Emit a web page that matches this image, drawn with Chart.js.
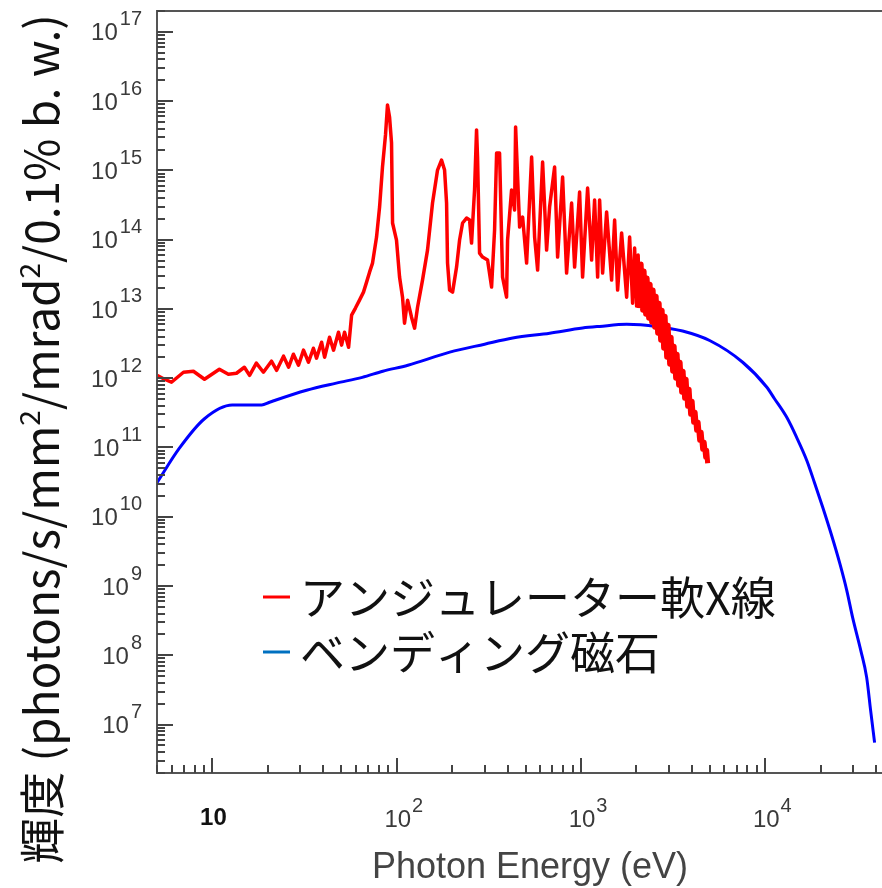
<!DOCTYPE html>
<html>
<head>
<meta charset="utf-8">
<script src="https://cdn.jsdelivr.net/npm/chart.js@4.4.1/dist/chart.umd.min.js"></script>
<style>
  html, body { margin: 0; padding: 0; background: #fff; }
  canvas { display: block; }
</style>
</head>
<body>
<canvas id="grafico" width="882" height="888"></canvas>
<script>
// series names (legend)
const seriesLabels = ['アンジュレーター軟X線', 'ベンディング磁石'];

// undulator (soft X-ray) - photon energy in eV
const undulatorEnergy = [5.0, 5.49, 5.99, 6.96, 7.88, 9.05, 10.9, 12.2, 13.5, 14.9,
  15.9, 17.3, 18.9, 20.9, 22.3, 24.3, 25.9, 27.5, 29.3, 31.2,
  33.2, 35.3, 36.7, 39.1, 40.6, 43.2, 45.4, 48.3, 50.2, 52.1,
  54.8, 56.9, 59.7, 62.8, 66.0, 68.6, 71.2, 73.9, 77.7, 80.7,
  83.7, 86.9, 89.1, 91.4, 93.7, 94.9, 99.7, 103.6, 107.5, 110.2,
  114.5, 120.3, 125, 129.7, 138, 146.9, 156.4, 166.5, 175, 181.8,
  186.4, 188.7, 193.6, 200.9, 211.2, 219.3, 227.7, 239.3, 248.5, 254.7,
  264.4, 271.1, 274.5, 281.5, 292.3, 311.1, 327.1, 339.6, 348.3, 361.4,
  375.2, 394.5, 399.5, 420, 436.1, 441.6, 464.4, 482.1, 506.8, 539.5,
  560.1, 581.5, 618.9, 650.6, 675.4, 719, 746.5, 794.6, 835.3, 889.2,
  923.2, 982.7, 1020, 1086, 1142, 1185, 1231, 1262, 1310, 1377,
  1466, 1522, 1580, 1661, 1769,
  1836, 1906, 1954, 2004, 2042, 2080, 2120, 2160, 2200, 2242,
  2284, 2328, 2372, 2417, 2463, 2509, 2557, 2605, 2655, 2705,
  2756, 2808, 2861, 2916, 2971, 3027, 3084, 3142, 3202, 3262,
  3324, 3386, 3451, 3516, 3582, 3650, 3719, 3789, 3861, 3934,
  4009, 4084, 4162, 4240, 4321, 4405, 4488, 4573, 4660, 4748,
  4808, 4868];
// brightness (photons/s/mm2/mrad2/0.1% b.w.)
const undulatorBright = [1.10e12, 9.67e11, 8.75e11, 1.22e12, 1.26e12, 9.67e11, 1.35e12, 1.14e12, 1.18e12, 1.44e12,
  1.10e12, 1.65e12, 1.22e12, 1.76e12, 1.30e12, 2.08e12, 1.44e12, 2.22e12, 1.54e12, 2.54e12,
  1.70e12, 2.71e12, 1.95e12, 3.31e12, 2.01e12, 3.91e12, 2.54e12, 4.62e12, 3.00e12, 4.62e12,
  2.80e12, 8.13e12, 1.03e13, 1.34e13, 1.75e13, 2.44e13, 3.40e13, 4.59e13, 1.09e14, 2.96e14,
  1.12e15, 3.25e15, 8.81e15, 5.91e15, 2.49e15, 1.74e14, 9.87e13, 2.88e13, 1.48e13, 6.23e12,
  1.34e13, 7.61e12, 5.28e12, 1.06e13, 2.61e13, 7.07e13, 3.38e14, 1.01e15, 1.41e15, 1.01e15,
  3.38e14, 4.59e13, 1.87e13, 1.75e13, 4.02e13, 9.87e13, 1.74e14, 2.05e14, 1.92e14, 8.93e13,
  5.21e14, 3.84e15, 1.56e15, 6.40e13, 5.60e13, 5.07e13, 2.07e13, 1.38e14, 1.78e15, 1.78e15,
  2.88e13, 1.48e13, 9.87e13, 5.21e14, 2.68e14, 4.24e15, 1.52e14, 2.12e14, 4.59e13, 1.56e15,
  1.09e14, 3.64e13, 1.32e15, 7.07e13, 2.96e14, 1.12e15, 5.60e13, 8.03e14, 3.29e13, 3.38e14,
  4.02e13, 4.87e14, 2.88e13, 5.57e14, 5.07e13, 3.73e14, 2.88e13, 3.73e14, 3.29e13, 2.51e14,
  2.61e13, 1.92e14, 1.87e13, 1.25e14, 1.48e13,
  1.09e14, 1.21e13, 7.56e13, 1.10e13, 5.99e13, 1.03e13, 4.44e13, 9.61e12, 3.52e13, 8.41e12,
  2.79e13, 7.36e12, 2.28e13, 6.45e12, 1.87e13, 5.46e12, 1.53e13, 4.47e12, 1.21e13, 3.54e12,
  9.61e12, 2.71e12, 7.87e12, 2.01e12, 5.83e12, 1.59e12, 3.91e12, 1.26e12, 2.90e12, 1.00e12,
  2.22e12, 7.92e11, 1.70e12, 6.28e11, 1.26e12, 5.14e11, 9.67e11, 3.94e11, 6.93e11, 3.02e11,
  4.65e11, 2.31e11, 3.23e11, 1.77e11, 2.31e11, 1.27e11, 1.66e11, 9.42e10, 1.19e11, 7.22e10,
  9.11e10, 5.91e10];

// bending magnet
const bendEnergy = [5.0, 6.6, 9.05, 12.8, 18.5, 20.4, 32.4, 47, 65, 84,
  115, 194, 300, 426, 676, 1020, 1262, 1770, 2570, 3560,
  4990, 7540, 10200, 11200, 13100, 14800, 16800, 18500, 20500, 22900,
  25400, 27700, 29800, 33000, 35500, 37300, 39200];
const bendBright = [3.1e10, 9.7e10, 2.6e11, 4.1e11, 4.1e11, 4.5e11, 6.7e11, 8.5e11, 1.03e12, 1.26e12,
  1.54e12, 2.38e12, 3.1e12, 3.8e12, 4.47e12, 5.3e12, 5.6e12, 6.0e12, 5.6e12, 4.8e12,
  3.5e12, 1.7e12, 7.4e11, 5.1e11, 2.7e11, 1.4e11, 6.5e10, 3.1e10, 1.37e10, 5.4e9,
  2.1e9, 8.6e8, 3.5e8, 1.17e8, 4.8e7, 1.6e7, 5.5e6];

// axis ranges and tick labels
const xRange = [5, 43000];
const yRange = [2e6, 2e17];
const xDecades = [1, 2, 3, 4];
const yDecades = [7, 8, 9, 10, 11, 12, 13, 14, 15, 16, 17];

const xTitle = 'Photon Energy (eV)';
// y title pieces: [text, superscript?]
const yTitleParts = [['輝度 (photons/s/mm', false], ['2', true], ['/mrad', false], ['2', true], ['/0.1% b. w.)', false]];

function toPoints(xs, ys) {
    return xs.map(function (x, i) { return { x: x, y: ys[i] }; });
}

// Dibuja marco, ticks, etiquetas, titulos y leyenda
const ejesPlugin = {
    id: 'ejes',
    afterDraw(chart) {
        const ctx = chart.ctx;
        const a = chart.chartArea;
        const sx = chart.scales.x, sy = chart.scales.y;
        ctx.save();

        // marco
        ctx.strokeStyle = '#555';
        ctx.lineWidth = 2;
        ctx.beginPath();
        ctx.moveTo(a.right + 2, a.top);
        ctx.lineTo(a.left, a.top);
        ctx.lineTo(a.left, a.bottom);
        ctx.lineTo(a.right + 2, a.bottom);
        ctx.stroke();

        // ticks eje y
        ctx.strokeStyle = '#444';
        ctx.lineWidth = 2;
        ctx.beginPath();
        for (let d = 6; d <= 17; d++) {
            for (let m = 1; m <= 9; m++) {
                const v = m * Math.pow(10, d);
                if (v < yRange[0] || v > yRange[1]) continue;
                const py = Math.round(sy.getPixelForValue(v));
                const len = m === 1 ? 16 : 8;
                ctx.moveTo(a.left, py);
                ctx.lineTo(a.left + len, py);
            }
        }
        // ticks eje x
        for (let d = 0; d <= 4; d++) {
            for (let m = 1; m <= 9; m++) {
                const v = m * Math.pow(10, d);
                if (v < xRange[0] || v > xRange[1]) continue;
                const px = Math.round(sx.getPixelForValue(v));
                const len = m === 1 ? 15 : 8;
                ctx.moveTo(px, a.bottom);
                ctx.lineTo(px, a.bottom - len);
            }
        }
        ctx.stroke();

        // etiquetas eje y
        ctx.fillStyle = '#3a3a3a';
        ctx.textBaseline = 'middle';
        ctx.textAlign = 'right';
        yDecades.forEach(function (e) {
            const py = sy.getPixelForValue(Math.pow(10, e));
            ctx.font = '20px "Liberation Sans"';
            const sup = String(e);
            const supW = ctx.measureText(sup).width;
            ctx.fillText(sup, 142, py - 12);
            ctx.font = '24px "Liberation Sans"';
            ctx.fillText('10', 142 - supW - 2, py + 2);
        });

        // etiquetas eje x
        xDecades.forEach(function (e) {
            const px = sx.getPixelForValue(Math.pow(10, e));
            if (e === 1) {
                ctx.fillStyle = '#111';
                ctx.font = 'bold 24px "Liberation Sans"';
                ctx.textAlign = 'center';
                ctx.fillText('10', px + 1, 818);
                return;
            }
            ctx.fillStyle = '#3a3a3a';
            ctx.font = '24px "Liberation Sans"';
            ctx.textAlign = 'center';
            const w = ctx.measureText('10').width;
            ctx.fillText('10', px + 1, 820);
            ctx.font = '20px "Liberation Sans"';
            ctx.textAlign = 'left';
            ctx.fillText(String(e), px + 1 + w / 2 + 1, 806);
        });

        // titulo eje x
        ctx.fillStyle = '#444';
        ctx.font = '36px "Liberation Sans"';
        ctx.textAlign = 'center';
        ctx.textBaseline = 'alphabetic';
        ctx.fillText(xTitle, 530, 878);

        // titulo eje y (rotado)
        const fs = 46;
        const piezas = yTitleParts.map(function (p) {
            ctx.font = (p[1] ? Math.round(fs * 0.6) : fs) + 'px "Noto Sans CJK JP"';
            return { t: p[0], sup: p[1], w: ctx.measureText(p[0]).width };
        });
        const total = piezas.reduce(function (s, p) { return s + p.w; }, 0);
        ctx.translate(59, 439);
        ctx.rotate(-Math.PI / 2);
        ctx.fillStyle = '#111';
        ctx.textAlign = 'left';
        let u = -total / 2;
        piezas.forEach(function (p) {
            ctx.font = (p.sup ? Math.round(fs * 0.6) : fs) + 'px "Noto Sans CJK JP"';
            ctx.fillText(p.t, u, p.sup ? -fs * 0.42 : 0);
            u += p.w;
        });
        ctx.setTransform(1, 0, 0, 1, 0, 0);

        // leyenda
        const colores = ['#ff0000', '#0070c0'];
        const filas = [597, 652];
        ctx.font = '45px "Noto Sans CJK JP"';
        ctx.textBaseline = 'middle';
        ctx.textAlign = 'left';
        seriesLabels.forEach(function (lbl, i) {
            ctx.strokeStyle = colores[i];
            ctx.lineWidth = 3;
            ctx.beginPath();
            ctx.moveTo(263, filas[i]);
            ctx.lineTo(290, filas[i]);
            ctx.stroke();
            ctx.fillStyle = '#111';
            ctx.fillText(lbl, 300, filas[i] + 1);
        });

        ctx.restore();
    }
};

const ctx = document.getElementById('grafico').getContext('2d');
new Chart(ctx, {
    type: 'line',
    data: {
        datasets: [{
            label: seriesLabels[0],
            data: toPoints(undulatorEnergy, undulatorBright),
            borderColor: '#ff0000',
            borderWidth: 3.5,
            pointRadius: 0,
            tension: 0,
            borderJoinStyle: 'round',
            // zona densa de armonicos: trazo mas grueso para que quede relleno
            segment: {
                borderWidth: function (c) { return c.p0.parsed.x >= 2080 ? 5 : undefined; }
            }
        }, {
            label: seriesLabels[1],
            data: toPoints(bendEnergy, bendBright),
            borderColor: '#0000ff',
            borderWidth: 3,
            pointRadius: 0,
            cubicInterpolationMode: 'monotone'
        }]
    },
    options: {
        responsive: false,
        maintainAspectRatio: false,
        devicePixelRatio: 1,
        animation: false,
        layout: { padding: { left: 157, top: 11, right: 0, bottom: 115 } },
        scales: {
            x: { type: 'logarithmic', min: xRange[0], max: xRange[1], display: false },
            y: { type: 'logarithmic', min: yRange[0], max: yRange[1], display: false }
        },
        plugins: {
            legend: { display: false },
            tooltip: { enabled: false }
        }
    },
    plugins: [ejesPlugin]
});
</script>
</body>
</html>
